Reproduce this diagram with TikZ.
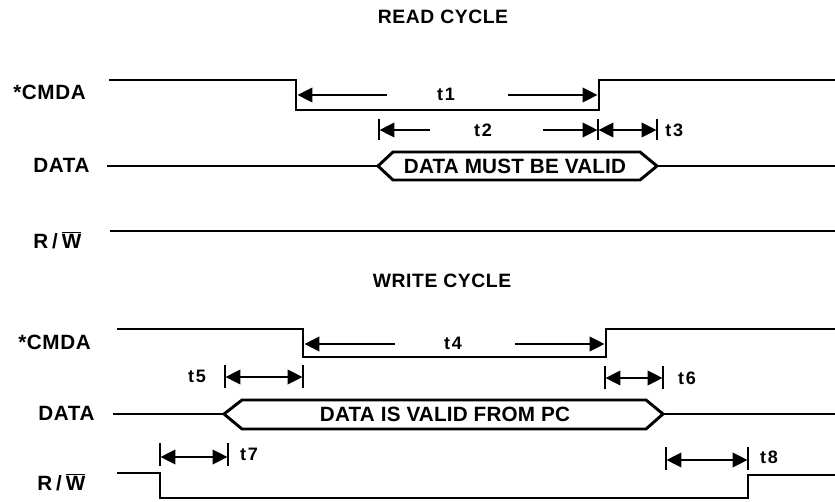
\documentclass[tikz,border=0pt]{standalone}
\usepackage{fontspec}
\setmainfont{Liberation Sans}
\newfontfamily\sigfont{Liberation Sans}[LetterSpace=3]
\newfontfamily\boxfont{Liberation Sans}[LetterSpace=1]
\newfontfamily\tfont{Liberation Sans}[LetterSpace=10]
\usetikzlibrary{arrows.meta}

\tikzset{
  wave/.style={line width=2.2pt, line join=miter},
  sig/.style={font=\sigfont\bfseries\fontsize{15.5}{18}\selectfont, anchor=west, inner sep=0pt},
  cycletitle/.style={font=\sigfont\bfseries\fontsize{14.5}{17}\selectfont, inner sep=0pt},
  boxtext/.style={font=\boxfont\bfseries\fontsize{15.5}{18}\selectfont, inner sep=0pt},
  tlabel/.style={font=\tfont\bfseries\fontsize{13.5}{16}\selectfont, inner sep=0pt},
  tip/.tip={Triangle[length=11pt,width=11pt]},
  dimto/.style={line width=1pt, -tip},
  dimboth/.style={line width=1pt, tip-tip},
  dimbar/.style={line width=1.1pt},
}

\begin{document}
\begin{tikzpicture}[x=0.75pt, y=-0.75pt]
\useasboundingbox (0,0) rectangle (835,502);

% ---------------- READ CYCLE ----------------
\node[cycletitle] (rtitle) at (443,17) {READ CYCLE};

\node[sig] (rlcmda) at (13,92) {*CMDA};
\node[sig] (rldata) at (33,165) {DATA};
\node[sig] (rlrw)   at (33,240) {R\kern3pt/\kern3pt$\overline{\hbox{W}}$};

% *CMDA waveform
\coordinate (rc0) at (109,80);
\coordinate (rcFh) at (296,80);
\coordinate (rcFl) at (296,110);
\coordinate (rcRl) at (599,110);
\coordinate (rcRh) at (599,80);
\coordinate (rcE) at (835,80);
\draw[wave] (rc0) -- (rcFh) -- (rcFl) -- (rcRl) -- (rcRh) -- (rcE);

% t1
\node[tlabel] (t1) at (446,94) {t1};
\coordinate (t1a) at (387,95);
\coordinate (t1b) at (297.6,95);
\coordinate (t1c) at (508,95);
\coordinate (t1d) at (597.4,95);
\draw[dimto] (t1a) -- (t1b);
\draw[dimto] (t1c) -- (t1d);

% t2 and t3
\coordinate (b2t) at (379,119); \coordinate (b2b) at (379,140);
\coordinate (b23t) at (598,119); \coordinate (b23b) at (598,140);
\coordinate (b3t) at (657,119); \coordinate (b3b) at (657,140);
\draw[dimbar] (b2t) -- (b2b);
\draw[dimbar] (b23t) -- (b23b);
\draw[dimbar] (b3t) -- (b3b);
\node[tlabel] (t2) at (483,130) {t2};
\coordinate (t2a) at (430,130);
\coordinate (t2b) at (379.6,130);
\coordinate (t2c) at (543,130);
\coordinate (t2d) at (597.4,130);
\draw[dimto] (t2a) -- (t2b);
\draw[dimto] (t2c) -- (t2d);
\coordinate (t3a) at (598.6,130);
\coordinate (t3b) at (656.4,130);
\draw[dimboth] (t3a) -- (t3b);
\node[tlabel, anchor=west] (t3) at (665,130) {t3};

% DATA bus
\coordinate (rd0) at (107,166);
\coordinate (rdL) at (378,166);
\coordinate (rdR) at (657,166);
\coordinate (rdE) at (835,166);
\draw[wave] (rd0) -- (rdL);
\draw[wave] (rdL) -- (393,152) -- (640,152) -- (rdR) -- (640,180) -- (393,180) -- cycle;
\draw[wave] (rdR) -- (rdE);
\node[boxtext] (rvalid) at (515,166) {DATA MUST BE VALID};

% R/W
\coordinate (rw0) at (110,231);
\coordinate (rwE) at (835,231);
\draw[wave] (rw0) -- (rwE);

% ---------------- WRITE CYCLE ----------------
\node[cycletitle] (wtitle) at (442,281) {WRITE CYCLE};

\node[sig] (wlcmda) at (18,342) {*CMDA};
\node[sig] (wldata) at (38,413) {DATA};
\node[sig] (wlrw)   at (37,482) {R\kern3pt/\kern3pt$\overline{\hbox{W}}$};

% *CMDA waveform
\coordinate (wc0) at (117,329);
\coordinate (wcFh) at (303,329);
\coordinate (wcFl) at (303,357);
\coordinate (wcRl) at (606,357);
\coordinate (wcRh) at (606,329);
\coordinate (wcE) at (835,329);
\draw[wave] (wc0) -- (wcFh) -- (wcFl) -- (wcRl) -- (wcRh) -- (wcE);

% t4
\node[tlabel] (t4) at (453,343) {t4};
\coordinate (t4a) at (395,344);
\coordinate (t4b) at (304.6,344);
\coordinate (t4c) at (515,344);
\coordinate (t4d) at (604.4,344);
\draw[dimto] (t4a) -- (t4b);
\draw[dimto] (t4c) -- (t4d);

% t5
\coordinate (b5at) at (225,365); \coordinate (b5ab) at (225,388);
\coordinate (b5bt) at (303,365); \coordinate (b5bb) at (303,388);
\draw[dimbar] (b5at) -- (b5ab);
\draw[dimbar] (b5bt) -- (b5bb);
\coordinate (t5a) at (225.6,377);
\coordinate (t5b) at (302.4,377);
\draw[dimboth] (t5a) -- (t5b);
\node[tlabel] (t5) at (197,376) {t5};

% t6
\coordinate (b6at) at (605,366); \coordinate (b6ab) at (605,389);
\coordinate (b6bt) at (663,366); \coordinate (b6bb) at (663,389);
\draw[dimbar] (b6at) -- (b6ab);
\draw[dimbar] (b6bt) -- (b6bb);
\coordinate (t6a) at (605.6,378);
\coordinate (t6b) at (662.4,378);
\draw[dimboth] (t6a) -- (t6b);
\node[tlabel] (t6) at (687,378) {t6};

% DATA bus
\coordinate (wd0) at (113,414);
\coordinate (wdL) at (224,414);
\coordinate (wdR) at (663,414);
\coordinate (wdE) at (835,414);
\draw[wave] (wd0) -- (wdL);
\draw[wave] (wdL) -- (242,400) -- (646,400) -- (wdR) -- (646,429) -- (242,429) -- cycle;
\draw[wave] (wdR) -- (wdE);
\node[boxtext] (wvalid) at (445,414) {DATA IS VALID FROM PC};

% t7
\coordinate (b7at) at (160,443); \coordinate (b7ab) at (160,466);
\coordinate (b7bt) at (228,443); \coordinate (b7bb) at (228,466);
\draw[dimbar] (b7at) -- (b7ab);
\draw[dimbar] (b7bt) -- (b7bb);
\coordinate (t7a) at (160.6,457);
\coordinate (t7b) at (227.4,457);
\draw[dimboth] (t7a) -- (t7b);
\node[tlabel] (t7) at (249,454) {t7};

% t8
\coordinate (b8at) at (666,447); \coordinate (b8ab) at (666,470);
\coordinate (b8bt) at (748,447); \coordinate (b8bb) at (748,470);
\draw[dimbar] (b8at) -- (b8ab);
\draw[dimbar] (b8bt) -- (b8bb);
\coordinate (t8a) at (666.6,460);
\coordinate (t8b) at (747.4,460);
\draw[dimboth] (t8a) -- (t8b);
\node[tlabel] (t8) at (769,457) {t8};

% R/W waveform
\coordinate (ww0) at (117,473);
\coordinate (wwFh) at (160,473);
\coordinate (wwFl) at (160,498);
\coordinate (wwRl) at (748,498);
\coordinate (wwRh) at (748,475);
\coordinate (wwE) at (835,475);
\draw[wave] (ww0) -- (wwFh) -- (wwFl) -- (wwRl) -- (wwRh) -- (wwE);
\end{tikzpicture}
\end{document}
